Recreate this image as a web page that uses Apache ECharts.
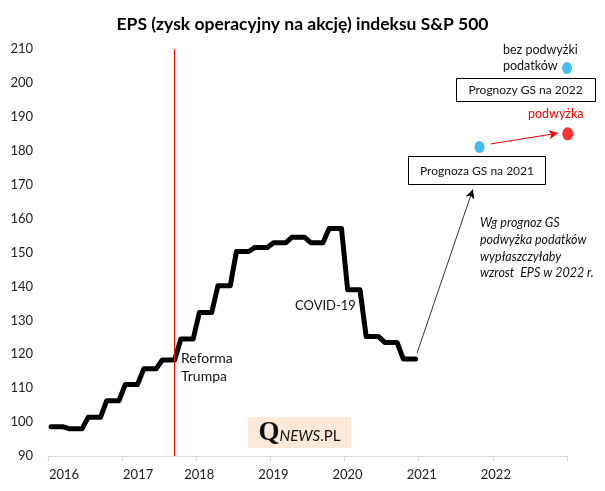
<!DOCTYPE html>
<html>
<head>
<meta charset="utf-8">
<script src="https://cdn.jsdelivr.net/npm/echarts@6/dist/echarts.min.js"></script>
<style>html,body{margin:0;padding:0;background:#fff}#c{width:605px;height:491px}</style>
</head>
<body>
<div id="c"></div>
<script>
// Quarterly EPS values, Q1 2016 .. Q4 2020
var startYear = 2016;
var quarterlyEPS = [98.6, 98.0, 101.4, 106.3, 111.1, 115.7, 118.3, 124.5,
                    132.3, 140.2, 150.3, 151.5, 152.9, 154.5, 152.9, 157.1,
                    139.0, 125.2, 123.5, 118.6];
var xTickYears = [2016, 2017, 2018, 2019, 2020, 2021, 2022];
var yTicks = [90, 100, 110, 120, 130, 140, 150, 160, 170, 180, 190, 200, 210];
var trumpReformX = 2017.7;
// GS forecasts
var forecast2021 = [2021.82, 181.1];
var forecast2022NoHike = [2023.0, 204.4];
var forecast2022Hike = [2023.01, 185.0];

// each quarter's value held over its three months
var lineData = [];
quarterlyEPS.forEach(function (v, q) {
  for (var k = 0; k < 3; k++) {
    lineData.push([startYear + (3 * q + k + 0.5) / 12, v]);
  }
});
var lastPt = lineData[lineData.length - 1];

var FONT = 'Lato';
var chart = echarts.init(document.getElementById('c'));
chart.setOption({
  animation: false,
  backgroundColor: '#fff',
  title: {
    text: 'EPS (zysk operacyjny na akcję) indeksu S&P 500',
    left: 'center', top: 10,
    textStyle: { fontFamily: FONT, fontSize: 17.5, fontWeight: 'bold', color: '#000' }
  },
  grid: { left: 48, right: 38, top: 49, bottom: 35 },
  xAxis: {
    type: 'value', min: 2016, max: 2023, interval: 1,
    axisLine: { lineStyle: { color: '#d9d9d9', width: 1 } },
    axisTick: { show: true, length: 5, lineStyle: { color: '#d9d9d9' } },
    splitLine: { show: false },
    axisLabel: {
      fontFamily: FONT, fontSize: 13, color: '#222', margin: 12,
      showMaxLabel: true,
      formatter: function (v) {
        if (xTickYears.indexOf(v) < 0) return '';
        if (v < 2018) return '{s|' + v + '}';
        return '{n|' + v + '}';
      },
      rich: {
        s: { fontFamily: FONT, fontSize: 13, color: '#222', padding: [0, 0, 0, 32] },
        n: { fontFamily: FONT, fontSize: 13, color: '#222', padding: [0, 0, 0, 6] }
      }
    }
  },
  yAxis: {
    type: 'value', min: yTicks[0], max: yTicks[yTicks.length - 1], interval: 10,
    axisLine: { show: false }, axisTick: { show: false }, splitLine: { show: false },
    axisLabel: { fontFamily: FONT, fontSize: 13, color: '#222', margin: 15 }
  },
  series: [
    {
      type: 'line', data: lineData, symbol: 'none', z: 3,
      lineStyle: { color: '#000', width: 5, cap: 'round', join: 'round' },
      markLine: {
        silent: true, symbol: ['none', 'none'], label: { show: false },
        lineStyle: { color: '#ff0000', width: 1, type: 'solid' },
        data: [
          { xAxis: trumpReformX },
          [
            { coord: [lastPt[0] + 0.02, lastPt[1] + 1.8], symbol: 'none',
              lineStyle: { color: '#000', width: 0.8, type: 'solid' } },
            { coord: [2021.73, 168.6], symbol: 'arrow', symbolSize: [7, 9] }
          ],
          [
            { coord: [2021.97, 182.0], symbol: 'none',
              lineStyle: { color: '#ff0000', width: 1, type: 'solid' } },
            { coord: [2022.88, 185.2], symbol: 'arrow', symbolSize: [7, 9] }
          ]
        ]
      }
    },
    {
      type: 'scatter', clip: false, symbolSize: [10, 12], z: 4,
      itemStyle: { color: '#13aef0' },
      data: [forecast2021, forecast2022NoHike]
    },
    {
      type: 'scatter', clip: false, symbolSize: [11, 13], z: 4,
      itemStyle: { color: '#ff0000' },
      data: [forecast2022Hike]
    }
  ],
  graphic: [
    { type: 'text', left: 181, top: 349, style: { text: 'Reforma\nTrumpa', fontFamily: FONT, fontSize: 14, fill: '#111', lineHeight: 18 } },
    { type: 'text', left: 295, top: 299, style: { text: 'COVID-19', fontFamily: FONT, fontSize: 13, fill: '#111' } },
    { type: 'text', left: 503, top: 42, style: { text: 'bez podwyżki\npodatków', fontFamily: FONT, fontSize: 12.5, fill: '#111', lineHeight: 16 } },
    { type: 'text', left: 528, top: 107, style: { text: 'podwyżka', fontFamily: FONT, fontSize: 12.5, fill: '#ff0000' } },
    { type: 'rect', shape: { x: 456.5, y: 78.5, width: 139, height: 23 }, style: { fill: '#fff', stroke: '#000', lineWidth: 1 } },
    { type: 'text', x: 525.5, y: 90, style: { text: 'Prognozy GS na 2022', fontFamily: FONT, fontSize: 12, fill: '#111', align: 'center', verticalAlign: 'middle' } },
    { type: 'rect', shape: { x: 408.5, y: 156.5, width: 137, height: 28 }, style: { fill: '#fff', stroke: '#000', lineWidth: 1 } },
    { type: 'text', x: 477, y: 171, style: { text: 'Prognoza GS na 2021', fontFamily: FONT, fontSize: 12, fill: '#111', align: 'center', verticalAlign: 'middle' } },
    { type: 'text', left: 480, top: 215, style: { text: 'Wg prognoz GS\npodwyżka podatków\nwypłaszczyłaby\nwzrost  EPS w 2022 r.', fontFamily: FONT, fontSize: 12.5, fontStyle: 'italic', fill: '#111', lineHeight: 16.7 } },
    { type: 'rect', shape: { x: 248, y: 417, width: 103, height: 31 }, style: { fill: '#fde9da' } },
    { type: 'text', x: 299.5, y: 433, style: {
        text: '{q|Q}{n|NEWS}{p|.PL}', align: 'center', verticalAlign: 'middle',
        rich: {
          q: { fontFamily: 'Liberation Serif', fontSize: 27, fontWeight: 'bold', fill: '#111', verticalAlign: 'bottom' },
          n: { fontFamily: FONT, fontSize: 15, fontStyle: 'italic', fill: '#111', verticalAlign: 'bottom', padding: [0, 0, 3, 0] },
          p: { fontFamily: FONT, fontSize: 15, fill: '#111', verticalAlign: 'bottom', padding: [0, 0, 3, 0] }
        } } }
  ]
});
</script>
</body>
</html>
